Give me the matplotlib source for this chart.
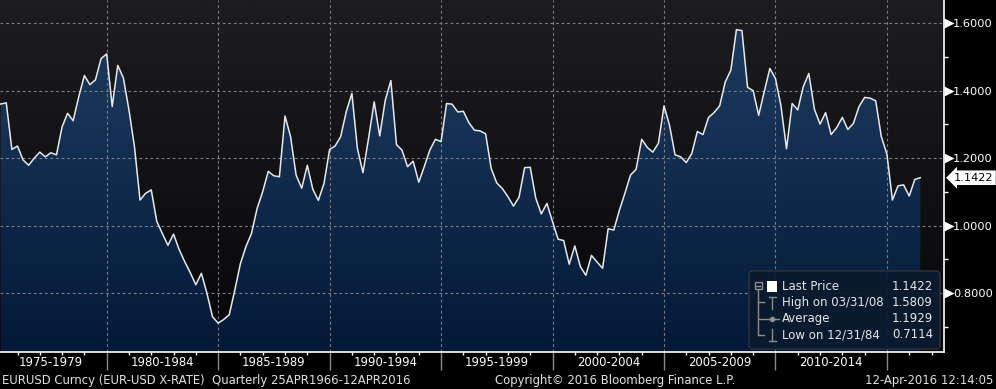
import numpy as np
import pandas as pd
import matplotlib
matplotlib.use('Agg')
import matplotlib.pyplot as plt
from matplotlib import transforms
from matplotlib.colors import LinearSegmentedColormap
from matplotlib.patches import Polygon, FancyBboxPatch, Rectangle

# quarterly EURUSD closes, 1975Q1 .. 2016Q2 (last = partial quarter)
start_quarter = '1975-03-31'
eurusd = [
	1.3605, 1.364, 1.226, 1.236, 1.195, 1.179, 1.200, 1.218, 1.204, 1.216,
	1.210, 1.293, 1.333, 1.311, 1.382, 1.445, 1.418, 1.432, 1.495, 1.509,
	1.353, 1.475, 1.438, 1.343, 1.234, 1.076, 1.096, 1.106, 1.013, 0.977,
	0.942, 0.975, 0.930, 0.894, 0.861, 0.825, 0.859, 0.800, 0.730, 0.7114,
	0.722, 0.736, 0.809, 0.888, 0.938, 0.977, 1.051, 1.101, 1.161, 1.148,
	1.145, 1.325, 1.264, 1.150, 1.111, 1.179, 1.108, 1.075, 1.125, 1.226,
	1.236, 1.264, 1.338, 1.392, 1.229, 1.157, 1.259, 1.367, 1.266, 1.372,
	1.430, 1.240, 1.224, 1.175, 1.191, 1.129, 1.175, 1.224, 1.256, 1.249,
	1.362, 1.360, 1.337, 1.339, 1.305, 1.283, 1.281, 1.272, 1.170, 1.127,
	1.110, 1.086, 1.058, 1.084, 1.172, 1.173, 1.082, 1.035, 1.066, 1.012,
	0.960, 0.956, 0.886, 0.940, 0.879, 0.853, 0.912, 0.892, 0.874, 0.991,
	0.987, 1.046, 1.096, 1.150, 1.167, 1.256, 1.232, 1.218, 1.244, 1.355,
	1.298, 1.210, 1.204, 1.187, 1.214, 1.279, 1.270, 1.321, 1.335, 1.355,
	1.426, 1.461, 1.5809, 1.578, 1.410, 1.400, 1.327, 1.397, 1.466, 1.436,
	1.355, 1.228, 1.362, 1.343, 1.412, 1.451, 1.345, 1.301, 1.335, 1.270,
	1.291, 1.321, 1.285, 1.303, 1.353, 1.380, 1.378, 1.370, 1.264, 1.212,
	1.076, 1.118, 1.121, 1.088, 1.137, 1.1422,
]
period_labels = ['1975-1979', '1980-1984', '1985-1989', '1990-1994',
				 '1995-1999', '2000-2004', '2005-2009', '2010-2014']
period_starts = [1975, 1980, 1985, 1990, 1995, 2000, 2005, 2010]
y_major = [0.8, 1.0, 1.2, 1.4, 1.6]
y_minor = [0.7, 0.9, 1.1, 1.3, 1.5]
legend_labels = ['Last Price', 'High on 03/31/08', 'Average', 'Low on 12/31/84']
legend_values = ['1.1422', '1.5809', '1.1929', '0.7114']
footer_left = 'EURUSD Curncy (EUR-USD X-RATE)  Quarterly 25APR1966-12APR2016'
footer_mid = 'Copyright\u00a9 2016 Bloomberg Finance L.P.'
footer_right = '12-Apr-2016 12:14:05'

dates = pd.date_range(start_quarter, periods=len(eurusd), freq='QE')
t = np.array([d.year + d.dayofyear / (366 if d.is_leap_year else 365) for d in dates])
vals = np.array(eurusd)

W, H = 996, 389
FS = 8.2
fig = plt.figure(figsize=(W / 100, H / 100), dpi=100, facecolor='black')
px = transforms.Affine2D().scale(1 / W, -1 / H).translate(0, 1) + fig.transFigure

ax = fig.add_axes([0, 37 / H, 944 / W, 352 / H])
ax.set_facecolor('black')
x0, x1 = 1975.215, 2017.56
y0, y1 = 0.6258, 1.6687
ax.set_xlim(x0, x1)
ax.set_ylim(y0, y1)

# background gradient
grad = np.linspace(1, 0, 256).reshape(-1, 1)
bg_cmap = LinearSegmentedColormap.from_list('bg', ['#07070a', '#1d1d20'])
ax.imshow(grad, extent=[x0, x1, y0, y1], aspect='auto', cmap=bg_cmap, origin='upper', zorder=0)

# area fill gradient, clipped to the area under the curve
verts = [(t[0], y0)] + list(zip(t, vals)) + [(t[-1], y0)]
area = Polygon(verts, closed=True, facecolor='none', edgecolor='none', transform=ax.transData)
ax.add_patch(area)
fill_cmap = LinearSegmentedColormap.from_list('fill', ['#031937', '#1f3e63'])
im = ax.imshow(grad, extent=[x0, x1, y0, y1], aspect='auto', cmap=fill_cmap, origin='upper', zorder=1)
im.set_clip_path(area)

# grid
for yv in y_major:
	ax.axhline(yv, color='#7e7e82', lw=0.8, ls=(0, (2.5, 2.5)), zorder=2)
for xv in period_starts[1:] + [2015]:
	ax.axvline(xv, color='#7e7e82', lw=0.8, ls=(0, (2.5, 2.5)), zorder=2)

ax.plot(t, vals, color='#e8e8e8', lw=1.1, zorder=3)

for s in ['top', 'left']:
	ax.spines[s].set_visible(False)
for s in ['bottom', 'right']:
	ax.spines[s].set_color('white')
	ax.spines[s].set_linewidth(1.2)

# right axis
ax.yaxis.tick_right()
ax.set_yticks(y_major)
ax.set_yticklabels([f'{v:.4f}' for v in y_major])
ax.set_yticks(y_minor, minor=True)
ax.tick_params(axis='y', which='major', length=0, pad=6.5, labelcolor='white', labelsize=FS)
ax.tick_params(axis='y', which='minor', length=3, width=1, color='white', direction='out')
tri = transforms.blended_transform_factory(ax.transAxes, ax.transData)
ax.plot([1.0055] * len(y_major), y_major, ls='none', marker='>', ms=6.5, color='white',
		mec='none', transform=tri, clip_on=False, zorder=5)

# last price tag
ax.annotate(f'{vals[-1]:.4f}', xy=(1.0, vals[-1]), xycoords=tri, xytext=(10, 0),
			textcoords='offset pixels', va='center', ha='left', color='black', fontsize=FS,
			bbox=dict(boxstyle='larrow,pad=0.2', fc='white', ec='none'), annotation_clip=False)

# bottom axis
ax.set_xticks(period_starts[1:] + [2015])
ax.set_xticklabels([])
ax.set_xticks([y for y in range(1976, 2018) if y % 5 != 0], minor=True)
ax.tick_params(axis='x', which='major', length=13, width=1, color='#8a8a8a', direction='out')
ax.tick_params(axis='x', which='minor', length=2.2, width=1, color='white', direction='out')
lab_tr = transforms.blended_transform_factory(ax.transData, px)
for lab, st in zip(period_labels, period_starts):
	ax.text(st + 2.5, 363, lab, transform=lab_tr, ha='center', va='center', color='white',
			fontsize=FS + 0.2, clip_on=False)

# legend box
box = FancyBboxPatch((749, 271), 191, 78, boxstyle='round,pad=0,rounding_size=4',
					 transform=px, facecolor='#0a1a2f', edgecolor='#34343a', lw=1, alpha=0.95)
fig.add_artist(box)
rows_y = [286.5, 302.5, 319, 335]
tree = '#8c8c8c'
fig.add_artist(plt.Line2D([758, 758], [290, 335], color=tree, lw=1, transform=px))
for ry in rows_y[1:]:
	fig.add_artist(plt.Line2D([758, 764], [ry, ry], color=tree, lw=1, transform=px))
fig.add_artist(Rectangle((754.5, 282.5), 7, 7, fill=False, ec=tree, lw=1, transform=px))
fig.add_artist(plt.Line2D([756, 760], [286, 286], color=tree, lw=1, transform=px))
fig.add_artist(Rectangle((767, 281), 10, 11, fc='white', ec='none', transform=px))
fig.add_artist(plt.Line2D([772, 772], [297, 309], color=tree, lw=1, transform=px))
fig.add_artist(plt.Line2D([768.5, 775.5], [297, 297], color=tree, lw=1, transform=px))
fig.add_artist(plt.Line2D([765, 779], [319, 319], color=tree, lw=1, transform=px))
fig.add_artist(plt.Line2D([772], [319], color=tree, marker='o', ms=3, transform=px))
fig.add_artist(plt.Line2D([772, 772], [329, 341], color=tree, lw=1, transform=px))
fig.add_artist(plt.Line2D([768.5, 775.5], [341, 341], color=tree, lw=1, transform=px))
for ry, lab, v in zip(rows_y, legend_labels, legend_values):
	fig.text(782, ry, lab, transform=px, ha='left', va='center', color='#e6e6e6', fontsize=FS + 0.3)
	fig.text(933, ry, v, transform=px, ha='right', va='center', color='#e6e6e6', fontsize=FS + 0.3)

# footer
fig.text(2, 381, footer_left, transform=px, ha='left', va='center', color='#e0e0e0', fontsize=FS + 0.2)
fig.text(615, 381, footer_mid, transform=px, ha='center', va='center', color='#e0e0e0', fontsize=FS + 0.2)
fig.text(993, 381, footer_right, transform=px, ha='right', va='center', color='#e0e0e0', fontsize=FS + 0.2)

fig.savefig('out.png', dpi=100, facecolor='black')
